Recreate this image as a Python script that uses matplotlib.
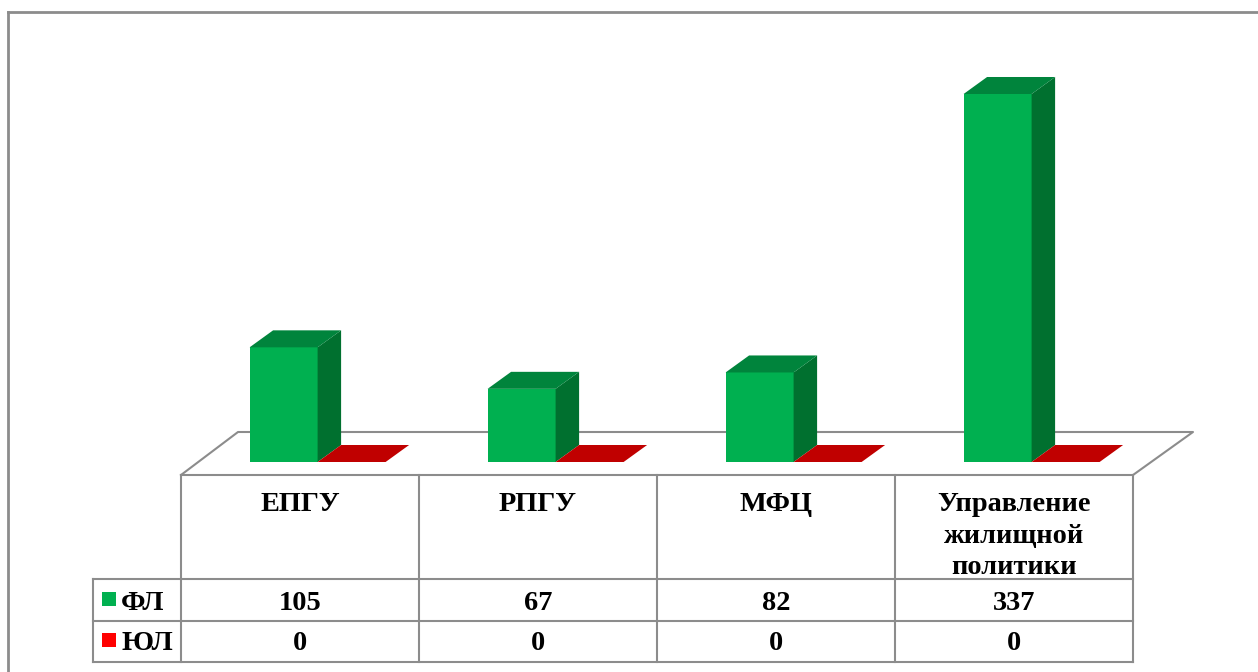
import matplotlib
matplotlib.use("Agg")
from matplotlib import pyplot as plt
from matplotlib.patches import Polygon, Rectangle

categories = ["ЕПГУ", "РПГУ", "МФЦ", "Управление\nжилищной\nполитики"]
series_names = ["ФЛ", "ЮЛ"]
fl_values = [105, 67, 82, 337]
ul_values = [0, 0, 0, 0]

GRAY = "#8c8c8c"
GREEN = ["#00b050", "#00843c", "#00702f"]  # front, top, side
RED = ["#c00000", "#c00000", "#900000"]
LEGEND_COLORS = ["#00b050", "#ff0000"]

W, H = 1258, 672
PX_PER_UNIT = 1.092  # pixels per value
BASE_Y = 462
COL_X = [181, 419, 657, 895, 1133]
COL_W = 238
BAR_W = 68
DX, DY = 23.5, 17

plt.rcParams["font.family"] = ["Liberation Serif", "DejaVu Serif"]
plt.rcParams["font.weight"] = "bold"

fig = plt.figure(figsize=(W / 100, H / 100), dpi=100)
# pixel coordinates, y going down like the picture
ax = fig.add_axes([0, 0, 1, 1])
ax.set_xlim(0, W)
ax.set_ylim(H, 0)
ax.axis("off")


def line(xs, ys, lw=1.5, z=1):
    ax.plot(xs, ys, color=GRAY, lw=lw, solid_capstyle="projecting", zorder=z)


def draw_bar(x, value, colors):
    h = value * PX_PER_UNIT
    top = BASE_Y - h
    front, top_c, side = colors
    if h > 0:
        ax.add_patch(Rectangle((x, top), BAR_W, h, fc=front, ec="none", zorder=3))
        ax.add_patch(Polygon([(x + BAR_W, top), (x + BAR_W + DX, top - DY),
                              (x + BAR_W + DX, BASE_Y - DY), (x + BAR_W, BASE_Y)],
                             fc=side, ec="none", zorder=3))
    ax.add_patch(Polygon([(x, top), (x + DX, top - DY), (x + BAR_W + DX, top - DY), (x + BAR_W, top)],
                         fc=top_c, ec="none", zorder=3))


# outer frame
line([8, 8], [H, 12], lw=2)
line([8, W], [12, 12], lw=2)

# floor
line([181, 238, 1193, 1133], [475, 432, 432, 475])

# table
row_y = [475, 579, 621, 662]
line([181, 1133], [row_y[0], row_y[0]])
for y in row_y[1:]:
    line([93, 1133], [y, y])
for x in COL_X:
    line([x, x], [475, 662])
line([93, 93], [579, 662])

# bars and table text
for i, cat in enumerate(categories):
    x0 = COL_X[i] + 68.6
    draw_bar(x0, fl_values[i], GREEN)
    draw_bar(x0 + BAR_W, ul_values[i], RED)
    cx = COL_X[i] + COL_W / 2
    ax.text(cx, 492, cat, ha="center", va="top", fontsize=20.4, linespacing=1.35, color="black", zorder=4)
    ax.text(cx, 603, str(fl_values[i]), ha="center", va="center", fontsize=20.4, color="black", zorder=4)
    ax.text(cx, 644, str(ul_values[i]), ha="center", va="center", fontsize=20.4, color="black", zorder=4)

# legend keys in the table
for name, col, y in zip(series_names, LEGEND_COLORS, [599, 640]):
    ax.add_patch(Rectangle((102, y - 7), 14, 14, fc=col, ec="none", zorder=4))
    ax.text(121, y + 4, name, ha="left", va="center", fontsize=20.4, color="black", zorder=4)

fig.savefig("out.png", dpi=100, facecolor="white")
